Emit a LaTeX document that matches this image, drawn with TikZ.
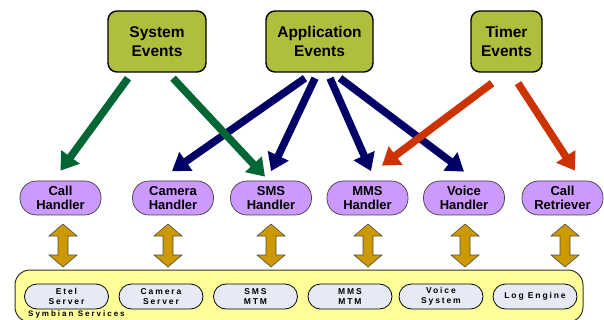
\documentclass[tikz,border=0pt]{standalone}
\usepackage{fontspec}
\setmainfont{Liberation Sans}
\newfontfamily\svcfont[LetterSpace=22]{Liberation Sans}
\newfontfamily\layerfont[LetterSpace=25]{Liberation Sans}
\usetikzlibrary{arrows.meta,shapes.misc}

\definecolor{evfill}{HTML}{B0BE3E}
\definecolor{hdlfill}{HTML}{CC99FF}
\definecolor{svcfill}{HTML}{E6EAF4}
\definecolor{layerfill}{HTML}{FFFF99}
\definecolor{sysgreen}{HTML}{006633}
\definecolor{appblue}{HTML}{000066}
\definecolor{timorange}{HTML}{CC3300}
\definecolor{linkgold}{HTML}{CC9900}

\tikzset{
  event/.style={draw=black, line width=1.4pt, fill=evfill, rounded corners=9pt,
    minimum height=61pt, align=center, inner sep=0pt,
    font=\fontsize{15.5}{18.5}\selectfont\bfseries},
  handler/.style={draw=black!75, line width=0.7pt, fill=hdlfill,
    rounded corners=16.5pt, minimum width=81pt, minimum height=34pt,
    align=center, inner sep=0pt, font=\fontsize{13}{13.5}\selectfont\bfseries},
  service/.style={rounded rectangle, draw=black, line width=0.8pt, fill=svcfill,
    minimum width=84pt, minimum height=25pt, align=center, inner sep=0pt,
    font=\svcfont\fontsize{8.5}{10.5}\selectfont\bfseries},
  layerbox/.style={draw=black!80, line width=1pt, fill=layerfill,
    rounded corners=15pt, minimum width=568pt, minimum height=52pt},
  flow/.style={line width=7.5pt, -{Triangle[width=22pt,length=17pt]}},
  updown/.pic={
    \filldraw[fill=linkgold, draw=black!70, line width=0.6pt]
      (0,-21.5) -- (14,-9.5) -- (5,-9.5) -- (5,9.5) -- (14,9.5) -- (0,21.5)
      -- (-14,9.5) -- (-5,9.5) -- (-5,-9.5) -- (-14,-9.5) -- cycle;}
}

\begin{document}
\begin{tikzpicture}[x=1pt, y=-1pt]
  \useasboundingbox (0,0) rectangle (604,320);
  \clip (0,0) rectangle (604,320);

  % event sources
  \node[event, minimum width=98pt]  (sys) at (157,41.5)   {System\\Events};
  \node[event, minimum width=107pt] (app) at (319.5,41.5) {Application\\Events};
  \node[event, minimum width=71pt]  (tim) at (506.5,41.5) {Timer\\Events};

  % handlers
  \node[handler] (h1) at (60.5,198)  {Call\\Handler};
  \node[handler] (h2) at (173,198)   {Camera\\Handler};
  \node[handler] (h3) at (271,198)   {SMS\\Handler};
  \node[handler] (h4) at (367.5,198) {MMS\\Handler};
  \node[handler] (h5) at (464,198)   {Voice\\Handler};
  \node[handler] (h6) at (562.5,198) {Call\\Retriever};

  % Symbian services layer
  \node[layerbox] (sym) at (299,296) {};
  \node[anchor=west, inner sep=0pt, font=\layerfont\fontsize{8}{9}\selectfont\bfseries]
    (symlbl) at (28,314.3) {Symbian Services};
  \node[service] (s1) at (66.5,296.5) {Etel\\Server};
  \node[service] (s2) at (161,296.5)  {Camera\\Server};
  \node[service] (s3) at (255.5,296.5) {SMS\\MTM};
  \node[service] (s4) at (350,296.5)  {MMS\\MTM};
  \node[service] (s5) at (441,296.5)  {Voice\\System};
  \node[service] (s6) at (535,296.5)  {Log Engine};

  % handler <-> service links
  \foreach \xx in {63,168,271,368,465,565}
    \pic at (\xx,245.5) {updown};

  % application events
  \draw[flow, appblue] ([xshift=-14.5pt,yshift=-5.5pt]app.south) -- ([xshift=-1pt,yshift=9.5pt]h2.north);
  \draw[flow, appblue] ([xshift=-4.5pt,yshift=-5.5pt]app.south) -- ([yshift=9.5pt]h3.north);
  \draw[flow, appblue] ([xshift=10.5pt,yshift=-5.5pt]app.south) -- ([xshift=3.5pt,yshift=9.5pt]h4.north);
  \draw[flow, appblue] ([xshift=20.5pt,yshift=-5.5pt]app.south) -- ([yshift=9pt]h5.north);

  % system events
  \draw[flow, sysgreen] ([xshift=-29pt,yshift=-5.5pt]sys.south) -- ([yshift=10pt]h1.north);
  \draw[flow, sysgreen] ([xshift=16pt,yshift=-5.5pt]sys.south) -- ([xshift=-6pt,yshift=4pt]h3.north);

  % timer events
  \draw[flow, timorange] ([xshift=-14.5pt,yshift=-10.5pt]tim.south) -- ([xshift=14.5pt,yshift=15pt]h4.north);
  \draw[flow, timorange] ([xshift=11.5pt,yshift=-10.5pt]tim.south) -- ([xshift=12.5pt,yshift=10pt]h6.north);
\end{tikzpicture}
\end{document}
